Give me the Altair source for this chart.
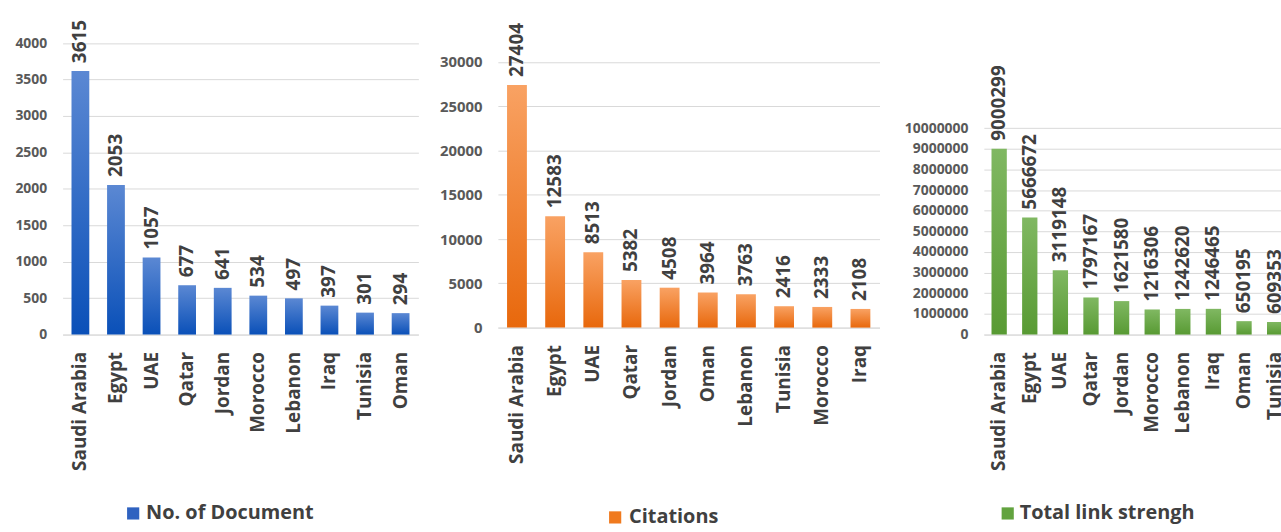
import altair as alt
import pandas as pd

# ---- data ----
doc_countries = ["Saudi Arabia", "Egypt", "UAE", "Qatar", "Jordan", "Morocco", "Lebanon", "Iraq", "Tunisia", "Oman"]
doc_values = [3615, 2053, 1057, 677, 641, 534, 497, 397, 301, 294]

cit_countries = ["Saudi Arabia", "Egypt", "UAE", "Qatar", "Jordan", "Oman", "Lebanon", "Tunisia", "Morocco", "Iraq"]
cit_values = [27404, 12583, 8513, 5382, 4508, 3964, 3763, 2416, 2333, 2108]

link_countries = ["Saudi Arabia", "Egypt", "UAE", "Qatar", "Jordan", "Morocco", "Lebanon", "Iraq", "Oman", "Tunisia"]
link_values = [9000299, 5666672, 3119148, 1797167, 1621580, 1216306, 1242620, 1246465, 650195, 609353]

doc_ticks = [0, 500, 1000, 1500, 2000, 2500, 3000, 3500, 4000]
cit_ticks = [0, 5000, 10000, 15000, 20000, 25000, 30000]
link_ticks = [0, 1000000, 2000000, 3000000, 4000000, 5000000, 6000000, 7000000, 8000000, 9000000, 10000000]

legend_labels = ["No. of Document", "Citations", "Total link strengh"]

FONT = "Open Sans"
TEXT_DARK = "#404040"
AXIS_GREY = "#595959"
GRID = "#D9D9D9"


def grad(top, bottom):
    return alt.Gradient(
        gradient="linear",
        stops=[alt.GradientStop(color=top, offset=0), alt.GradientStop(color=bottom, offset=1)],
        x1=0, x2=0, y1=0, y2=1,
    )


def panel(countries, values, ticks, dmax, width, height, pad, top, bottom, legend,
          legend_color, sq_x, leg_y, txt_x, ylab_size):
    df = pd.DataFrame({"country": countries, "value": values})
    x = alt.X(
        "country:N", sort=countries,
        scale=alt.Scale(paddingInner=pad, paddingOuter=pad / 2),
        axis=alt.Axis(title=None, labelAngle=-90, labelAlign="right", labelBaseline="middle",
                      labelFont=FONT, labelFontSize=19, labelFontWeight="bold",
                      labelColor=TEXT_DARK, labelPadding=17, ticks=False, tickSize=0,
                      domainColor=GRID, domainWidth=1, labelOverlap=False, labelLimit=0),
    )
    y = alt.Y(
        "value:Q", scale=alt.Scale(domain=[0, dmax], nice=False),
        axis=alt.Axis(title=None, values=ticks, tickCount=len(ticks) + 2, grid=True,
                      gridColor=GRID, domain=False, ticks=False, tickSize=0, labelFont=FONT,
                      labelFontSize=ylab_size, labelFontWeight="bold", labelColor=AXIS_GREY,
                      labelPadding=16, labelOverlap=False, format="d"),
    )
    base = alt.Chart(df)
    bars = base.mark_bar(color=grad(top, bottom)).encode(x=x, y=y)
    labels = base.mark_text(angle=270, align="left", baseline="middle", dx=8, font=FONT,
                            fontSize=19, fontWeight="bold", color=TEXT_DARK).encode(
        x=alt.X("country:N", sort=countries), y="value:Q", text=alt.Text("value:Q", format="d"))
    ldf = pd.DataFrame({"label": [legend]})
    sq = alt.Chart(ldf).mark_square(size=150, color=legend_color, opacity=1).encode(
        x=alt.value(sq_x), y=alt.value(leg_y))
    lt = alt.Chart(ldf).mark_text(align="left", baseline="middle", font=FONT, fontSize=20,
                                  fontWeight="bold", color=TEXT_DARK).encode(
        x=alt.value(txt_x), y=alt.value(leg_y), text="label:N")
    return alt.layer(bars, labels, sq, lt).properties(width=width, height=height)


p1 = panel(doc_countries, doc_values, doc_ticks, 4500, 358, 330, 0.5,
           "#5B88D3", "#0A50B8", legend_labels[0], "#2F62C0", 71, 510, 84, 14)
p2 = panel(cit_countries, cit_values, cit_ticks, 36250, 384, 323, 0.48,
           "#F9A263", "#E8680C", legend_labels[1], "#F07A1E", 118, 514, 132, 15)
p3 = panel(link_countries, link_values, link_ticks, 15890000, 308, 330, 0.5,
           "#80B862", "#589A33", legend_labels[2], "#62A33F", 24, 510, 36, 14)

chart = alt.hconcat(alt.hconcat(p1, p2, spacing=21), p3, spacing=24).properties(
    padding={"left": 14, "top": 5, "right": -9, "bottom": 0},
    background="white",
).configure_view(stroke=None)

chart.save("out.html", embed_options={"renderer": "svg", "actions": False})
